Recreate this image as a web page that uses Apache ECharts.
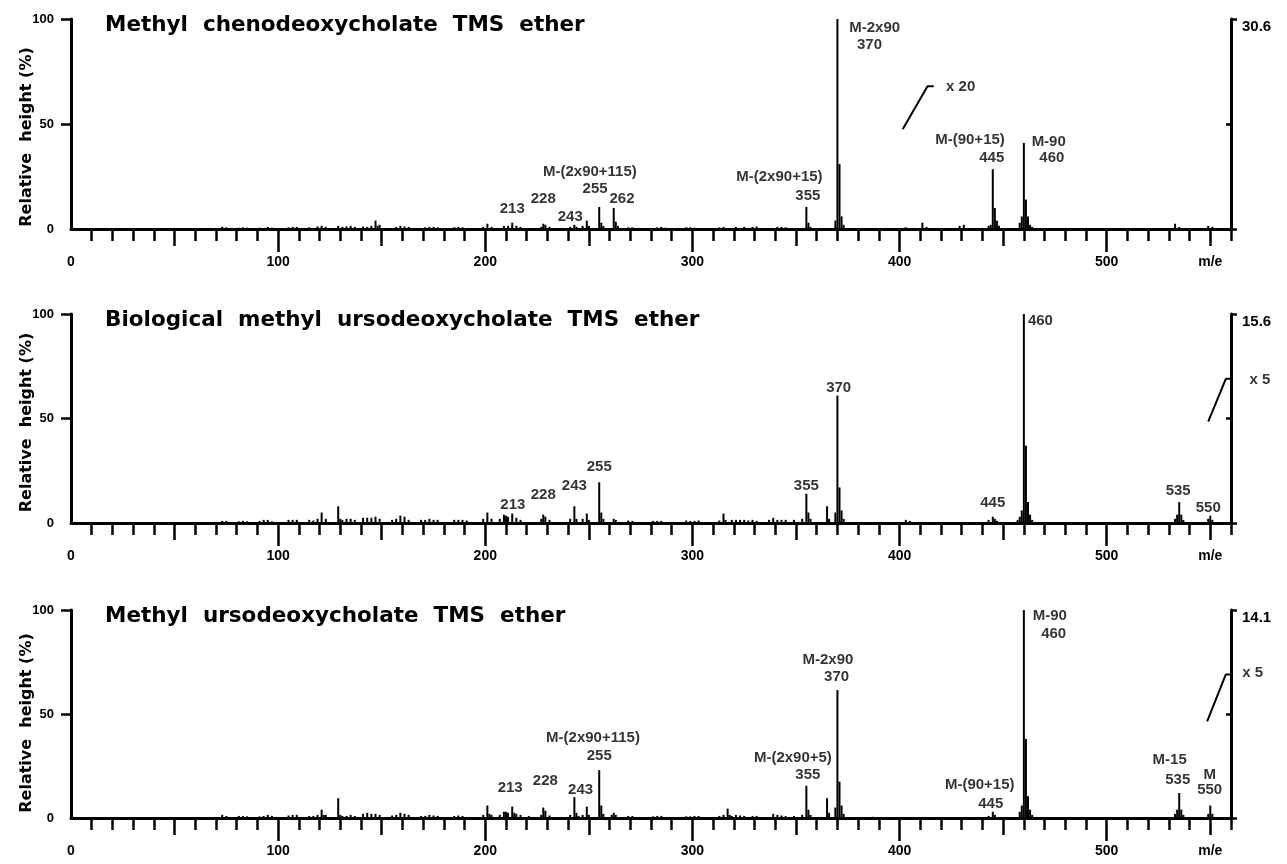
<!DOCTYPE html>
<html><head><meta charset="utf-8">
<script src="https://cdn.jsdelivr.net/npm/echarts@6/dist/echarts.min.js"></script>
<style>html,body{margin:0;padding:0;background:#fff}#c{width:1287px;height:864px}</style>
</head><body><div id="c"></div>
<script>
// ---------------- DATA ----------------
const titles = [
  'Methyl  chenodeoxycholate  TMS  ether',
  'Biological  methyl  ursodeoxycholate  TMS  ether',
  'Methyl  ursodeoxycholate  TMS  ether'
];
const yAxisName = 'Relative  height (%)';
const leftTickValues = [0, 50, 100];
const rightAxisMax = [30.6, 15.6, 14.1];
const xTickValues = [0, 100, 200, 300, 400, 500, 550];
const xTickLabels = ['0', '100', '200', '300', '400', '500', 'm/e'];

// [m/e, relative height %]
const peaks1 = [
 [73,1],[75,0.8],[81,0.6],[83,0.8],[85,0.6],[91,0.6],[95,1],[97,0.6],[105,0.8],[107,1],[109,1],
 [115,0.8],[119,1.2],[121,1.5],[123,1],[129,1.5],[131,1],[133,1.2],[135,1.5],[137,1],[141,1.2],
 [143,1],[145,1.5],[147,4],[148,1.5],[149,2],[157,1],[159,1.5],[161,1.2],[163,1],[171,0.8],[173,1],
 [175,1],[177,0.8],[185,0.8],[187,1],[189,0.8],[199,1],[201,2.5],[203,1],[209,1.5],[211,1.5],
 [213,3],[215,1.5],[217,1],[227,1],[228,2.5],[229,2],[231,1],[241,1],[243,2],[244,1],[247,1.5],
 [249,4],[250,1.5],[255,10.5],[256,3],[257,1.5],[262,10],[263,3.5],[264,1.5],[269,0.8],[271,0.8],
 [281,0.5],[283,0.8],[285,1],[287,0.6],[297,0.8],[299,0.8],[301,0.6],[313,0.8],[315,1],[321,1],
 [325,1],[329,1],[331,1.2],[341,1],[343,1],[345,0.8],[355,10.5],[356,3],[357,1],[369,4],[370,100],
 [371,31],[372,6],[373,2],[399,0.5],[401,0.5],[403,0.8],[411,3],[413,1],[429,1.5],[431,2],
 [443,1.5],[444,2],[445,28.5],[446,10],[447,4],[448,1.5],[458,3],[459,6],[460,41],[461,14],
 [462,6],[463,2],[464,1],[533,2.5],[535,1],[549,1.5],[551,1]
];
const peaks2 = [
 [73,1],[75,1],[81,0.8],[83,1],[85,0.8],[91,1],[93,1.5],[95,1.5],[97,0.8],[105,1.5],[107,1.5],
 [109,1.5],[115,1.5],[117,1.2],[119,2],[121,5],[123,2],[129,8],[130,2],[131,1.5],[133,2],[135,2],
 [137,1.5],[141,2.5],[143,2.5],[145,2.5],[147,3],[149,2],[155,1.5],[157,2],[159,3.5],[161,3],
 [163,1.5],[169,1.5],[171,1.5],[173,2],[175,1.5],[177,1.5],[185,1.5],[187,1.5],[189,1.5],[191,1.2],
 [199,2],[201,5],[203,2],[207,2],[209,4],[210,3.5],[211,3],[213,4.5],[215,2.5],[217,1.5],[227,2],
 [228,4],[229,3],[231,1.5],[241,2],[243,8],[244,2],[247,2],[249,4.5],[250,1.5],[255,19.5],[256,5],
 [257,2],[262,2],[263,1.5],[269,1.2],[271,1],[281,1],[283,1],[285,1],[297,1.2],[299,1],[301,1],
 [303,1.2],[313,1.2],[315,4.5],[316,1.5],[319,1.5],[321,1.5],[323,1.5],[325,1.5],[327,1.2],[329,1.5],
 [331,1],[337,1.5],[339,2.5],[341,1.5],[343,1.5],[345,1.5],[349,1.5],[353,2],[355,14],[356,5],
 [357,2],[365,8],[366,2],[369,5],[370,61],[371,17],[372,6],[373,2],[403,1.5],[405,1],[443,1.5],
 [445,3],[446,2],[447,1],[457,1.5],[458,3],[459,6],[460,100],[461,37],[462,10],[463,4],[464,1.5],
 [533,2],[534,4],[535,10],[536,4],[537,1.5],[549,2],[550,3.5],[551,1.5]
];
const peaks3 = [
 [73,1.5],[75,1],[81,1],[83,1],[85,0.8],[91,0.8],[93,1],[95,1.5],[97,1],[105,1.2],[107,1.5],
 [109,1.5],[115,1],[117,1],[119,1.5],[121,4],[122,1.5],[123,1.5],[129,9.5],[130,1.5],[131,1],
 [133,1],[135,1.5],[137,1],[141,2],[143,2.5],[145,2],[147,2],[149,1.5],[155,1.2],[157,1.5],
 [159,2.5],[161,2],[163,1.5],[169,1],[171,1],[173,1.5],[175,1.2],[177,1],[185,1],[187,1.2],[189,1],
 [199,1.5],[201,6],[202,2],[203,1.5],[207,1.5],[209,3],[210,3],[211,2.5],[213,5.5],[214,2.5],
 [215,2],[217,1.5],[221,1],[227,1.5],[228,5],[229,3.5],[231,1.2],[241,1.5],[243,10],[244,2.5],
 [245,1],[247,1.5],[249,5.5],[250,1.5],[255,23],[256,6],[257,2],[261,1.5],[262,2.5],[263,1.5],
 [269,1],[271,1],[281,0.8],[283,1],[285,1],[297,0.8],[299,0.8],[301,1],[303,1],[313,1],[315,1.5],
 [317,4.5],[318,1.5],[319,1],[321,1.5],[323,1.2],[325,1],[329,1],[331,1],[339,2],[341,1.5],
 [343,1.2],[345,1],[349,1],[353,1.5],[355,15.5],[356,4],[357,1.5],[365,9.5],[366,2.5],[369,5],
 [370,61.5],[371,17.5],[372,6],[373,2],[387,0.6],[405,0.5],[443,1],[445,3],[446,1.5],[458,3],
 [459,6],[460,100],[461,38],[462,10.5],[463,4],[464,1.5],[533,2],[534,4],[535,12],[536,4],
 [537,1.5],[549,2],[550,6],[551,2]
];

// annotations: [m/e, height, text]
const notes1 = [
 [213,9.5,'213'],[228,14.3,'228'],[241,5.7,'243'],[250.5,27,'M-(2x90+115)'],[253,19,'255'],
 [266,14.3,'262'],[342,25,'M-(2x90+15)'],[355.7,16,'355'],[388,95.7,'M-2x90'],[385.5,87.6,'370'],
 [434,42.4,'M-(90+15)'],[444.5,33.8,'445'],[472,41.4,'M-90'],[473.5,33.8,'460'],[429.5,67.6,'x 20']
];
const notes2 = [
 [213.3,8.6,'213'],[228,13.4,'228'],[243,18,'243'],[255,26.8,'255'],[355,17.7,'355'],
 [370.6,64.6,'370'],[445,9.6,'445'],[468,96.7,'460'],[534.5,15.3,'535'],[549,7.2,'550'],[574,68.4,'x 5']
];
const notes3 = [
 [212,14.4,'213'],[229,17.8,'228'],[246,13.5,'243'],[252,38.5,'M-(2x90+115)'],[255,30,'255'],
 [348.5,29,'M-(2x90+5)'],[355.7,20.7,'355'],[365.4,76,'M-2x90'],[369.6,67.8,'370'],
 [472.5,97,'M-90'],[474.4,88.5,'460'],[438.7,15.9,'M-(90+15)'],[444,6.7,'445'],
 [530.4,27.9,'M-15'],[534.3,18.3,'535'],[549.7,20.7,'M'],[549.7,13.5,'550'],[570.5,69.7,'x 5']
];
// scale-change marks
const slash1 = [[401.5,47.5],[413.5,68],[416.5,68]];
const slash2 = [[549,48.5],[557.5,69],[560,69]];
const slash3 = [[548.5,46.5],[557.5,69],[560,69]];

// ---------------- CHART ----------------
const panels = [
  {title: titles[0], peaks: peaks1, notes: notes1, slash: slash1, rmax: rightAxisMax[0]},
  {title: titles[1], peaks: peaks2, notes: notes2, slash: slash2, rmax: rightAxisMax[1]},
  {title: titles[2], peaks: peaks3, notes: notes3, slash: slash3, rmax: rightAxisMax[2]}
];
const layout = [
  {top:19, height:210, namePad:26},
  {top:314, height:209, namePad:8},
  {top:610, height:208, namePad:18}
];
const LF = "'Liberation Sans', Arial, sans-serif";
const TF = "'DejaVu Sans', sans-serif";
const BLACK = '#000';
const minorTicks = [], medTicks = [], majTicks = [];
for (let v = 10; v <= 560; v += 10) minorTicks.push(v);
for (let v = 50; v <= 550; v += 50) medTicks.push(v);
for (let v = 100; v <= 500; v += 100) majTicks.push(v);

const option = {animation:false, backgroundColor:'#fff', title:[], grid:[], xAxis:[], yAxis:[], series:[]};
const lbl = {color:BLACK, fontFamily:LF, fontWeight:'bold', fontSize:14};

panels.forEach((p, i) => {
  const L = layout[i];
  option.grid.push({left:71, width:1160, top:L.top, height:L.height});
  option.title.push({text:p.title, left:105, top:L.top-5, padding:0,
    textStyle:{fontFamily:TF, fontWeight:'bold', fontSize:21.5, color:BLACK}});
  const baseX = {gridIndex:i, type:'value', min:0, max:560, position:'bottom', splitLine:{show:false}};
  option.xAxis.push(Object.assign({}, baseX, {
    interval:10,
    axisLine:{show:true, onZero:false, lineStyle:{color:BLACK, width:3}},
    axisTick:{show:true, length:12, customValues:minorTicks, lineStyle:{color:BLACK, width:2.5}},
    axisLabel:Object.assign({show:true, customValues:xTickValues, margin:26,
      formatter: v => xTickLabels[xTickValues.indexOf(v)] ?? ''}, lbl)
  }));
  option.xAxis.push(Object.assign({}, baseX, {
    interval:50, axisLine:{show:false, onZero:false},
    axisTick:{show:true, length:17, customValues:medTicks, lineStyle:{color:BLACK, width:2.5}},
    axisLabel:{show:false}
  }));
  option.xAxis.push(Object.assign({}, baseX, {
    interval:100, axisLine:{show:false, onZero:false},
    axisTick:{show:true, length:23, customValues:majTicks, lineStyle:{color:BLACK, width:2.5}},
    axisLabel:{show:false}
  }));
  option.yAxis.push({gridIndex:i, type:'value', min:0, max:100, interval:50, position:'left',
    axisLine:{show:true, onZero:false, lineStyle:{color:BLACK, width:3}},
    axisTick:{show:true, length:10, customValues:[50,100], lineStyle:{color:BLACK, width:2.5}},
    axisLabel:Object.assign({margin:17, customValues:leftTickValues}, lbl, {fontSize:13}),
    splitLine:{show:false},
    name:yAxisName, nameLocation:'middle', nameGap:36, nameMoveOverlap:false,
    nameTextStyle:{fontFamily:TF, fontWeight:'bold', fontSize:16, color:BLACK, padding:[0, L.namePad, 0, 0]}
  });
  option.yAxis.push({gridIndex:i, type:'value', min:0, max:p.rmax, position:'right',
    axisLine:{show:true, onZero:false, lineStyle:{color:BLACK, width:3}},
    axisTick:{show:true, length:6, customValues:[0, p.rmax], lineStyle:{color:BLACK, width:2.5}},
    axisLabel:Object.assign({show:true, customValues:[p.rmax], margin:11, verticalAlign:'top',
      formatter: v => v.toFixed(1)}, lbl, {fontSize:15}),
    splitLine:{show:false}
  });
  option.yAxis.push({gridIndex:i, type:'value', min:0, max:p.rmax, position:'right',
    axisLine:{show:false, onZero:false},
    axisTick:{show:true, inside:true, length:5, customValues:[p.rmax/2], lineStyle:{color:BLACK, width:2.5}},
    axisLabel:{show:false}, splitLine:{show:false}
  });
  option.series.push({type:'bar', xAxisIndex:i*3, yAxisIndex:i*3, data:p.peaks, barWidth:2,
    itemStyle:{color:BLACK}, silent:true});
  option.series.push({type:'line', xAxisIndex:i*3, yAxisIndex:i*3, data:p.slash, symbol:'none',
    clip:false, lineStyle:{color:BLACK, width:2}, silent:true});
  option.series.push({type:'scatter', xAxisIndex:i*3, yAxisIndex:i*3, clip:false, silent:true,
    symbolSize:1, itemStyle:{color:'rgba(0,0,0,0)'},
    data:p.notes.map(n => ({value:[n[0], n[1]], name:n[2]})),
    label:Object.assign({show:true, position:'inside', formatter:'{b}', align:'center',
      verticalAlign:'middle', textBorderWidth:0}, lbl, {fontSize:15})
  });
});

const chart = echarts.init(document.getElementById('c'), null, {renderer:'canvas'});
chart.setOption(option);
</script>
</body></html>
